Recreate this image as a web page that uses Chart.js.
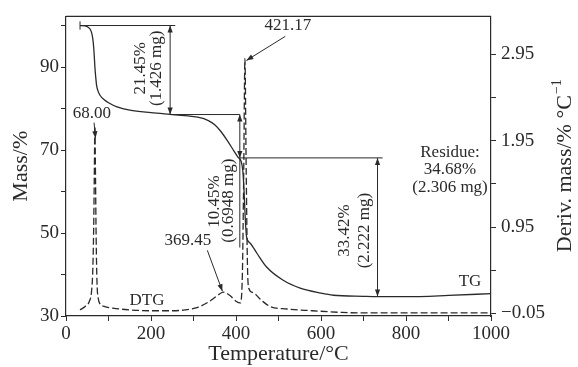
<!DOCTYPE html>
<html>
<head>
<meta charset="utf-8">
<script src="https://cdn.jsdelivr.net/npm/chart.js@4.4.1/dist/chart.umd.min.js"></script>
<style>
  body { margin: 0; background: #fff; }
  canvas { display: block; }
</style>
</head>
<body>
<canvas id="tga" width="578" height="367"></canvas>
<script>
// TG curve, mass % against temperature
const tgTemp = [33, 45, 52, 57, 61, 64, 66, 68, 70, 72, 75, 80, 90, 100, 120, 150, 200, 245, 280, 310, 335, 350, 365, 380, 395, 405, 412, 416, 419, 422, 425, 433, 450, 472, 511, 551, 600, 629, 700, 750, 800, 900, 1000];
const tgMass = [100, 99.9, 99.6, 99.1, 98.0, 96, 93.5, 90, 87.5, 85.6, 84.3, 83.2, 82.1, 81.4, 80.4, 79.6, 79.0, 78.6, 78.3, 77.9, 77.1, 76.1, 74.4, 72.2, 69.8, 68.2, 67.3, 65, 60, 53, 49, 47.6, 45, 41.8, 38.6, 36.7, 35.5, 35.0, 34.75, 34.65, 34.65, 34.95, 35.4];

// DTG curve, deriv. mass %/°C
const dtgTemp = [33, 45, 55, 60, 63, 65, 66.5, 68, 69.5, 71, 73, 76, 80, 90, 110, 150, 200, 250, 280, 310, 335, 355, 370, 385, 400, 410, 415, 418, 421, 424, 427, 430, 440, 460, 480, 520, 580, 650, 700, 1000];
const dtgVal = [-0.01, 0.03, 0.09, 0.2, 0.45, 0.9, 1.5, 2.12, 1.5, 0.8, 0.3, 0.12, 0.06, 0.03, 0.01, -0.01, -0.02, -0.02, -0.01, 0.02, 0.08, 0.15, 0.195, 0.16, 0.09, 0.07, 0.4, 1.5, 2.9, 1.6, 0.5, 0.24, 0.19, 0.1, 0.03, 0.0, -0.02, -0.04, -0.045, -0.045];

// tick values
const tempTicks = [0, 100, 200, 300, 400, 500, 600, 700, 800, 900, 1000];
const tempLabels = [0, 200, 400, 600, 800, 1000];
const massTicks = [30, 40, 50, 60, 70, 80, 90, 100];
const massLabels = [30, 50, 70, 90];
const derivTicks = [-0.05, 0.45, 0.95, 1.45, 1.95, 2.45, 2.95];
const derivLabels = [-0.05, 0.95, 1.95, 2.95];

// mass loss brackets (temperature, mass)
const bracketLines = [
    [33, 100, 257, 100],
    [33, 99, 33, 101],
    [245, 100, 245, 78.55],
    [245, 78.55, 409, 78.55],
    [409, 78.55, 409, 46.5],
    [409, 68.1, 745, 68.1],
    [733, 68.1, 733, 34.68]
];
const bracketHeads = [
    [245, 100, -1], [245, 78.55, 1],
    [409, 78.55, -1], [409, 68.1, 1],
    [733, 68.1, -1], [733, 34.68, 1]
];
// peak pointers (temperature, deriv. mass)
const peakPointers = [
    [66, 2.16, 69.4, 1.98],
    [516, 3.16, 424.5, 2.88],
    [332.5, 0.68, 368, 0.207]
];
// labels (temperature, mass)
const notes = [
    ['68.00', 61, 78.9, 0],
    ['369.45', 287, 48.2, 0],
    ['421.17', 522, 100.0, 0],
    ['21.45%', 176.5, 89.7, 1],
    ['(1.426 mg)', 214, 89.7, 1],
    ['10.45%', 350.6, 57.6, 1],
    ['(0.6948 mg)', 383.5, 57.8, 1],
    ['33.42%', 656.5, 50.6, 1],
    ['(2.222 mg)', 703.5, 50.6, 1],
    ['Residue:', 903.5, 69.3, 0],
    ['34.68%', 903.5, 65.4, 0],
    ['(2.306 mg)', 903.5, 60.9, 0],
    ['TG', 950.6, 38.4, 0],
    ['DTG', 190.6, 33.8, 0]
];

const ink = '#2a2a2a';
const serif = 'Liberation Serif';

function toPts(xs, ys) {
    return xs.map((x, i) => ({ x: x, y: ys[i] }));
}

function head(ctx, x1, y1, x2, y2) {
    const a = Math.atan2(y2 - y1, x2 - x1);
    const len = 7, w = 2.6;
    ctx.beginPath();
    ctx.moveTo(x2, y2);
    ctx.lineTo(x2 - len * Math.cos(a) + w * Math.sin(a), y2 - len * Math.sin(a) - w * Math.cos(a));
    ctx.lineTo(x2 - len * Math.cos(a) - w * Math.sin(a), y2 - len * Math.sin(a) + w * Math.cos(a));
    ctx.closePath();
    ctx.fill();
}

const annotate = {
    id: 'annotate',
    afterDatasetsDraw(chart) {
        const ctx = chart.ctx;
        const sx = chart.scales.x, sy = chart.scales.y, sd = chart.scales.y1;
        const a = chart.chartArea;
        ctx.save();
        ctx.strokeStyle = ink;
        ctx.fillStyle = ink;
        ctx.lineWidth = 1.2;

        // top frame line
        ctx.beginPath();
        ctx.moveTo(a.left, a.top);
        ctx.lineTo(a.right, a.top);
        ctx.stroke();

        ctx.lineWidth = 1;
        bracketLines.forEach(l => {
            ctx.beginPath();
            ctx.moveTo(sx.getPixelForValue(l[0]), sy.getPixelForValue(l[1]));
            ctx.lineTo(sx.getPixelForValue(l[2]), sy.getPixelForValue(l[3]));
            ctx.stroke();
        });
        bracketHeads.forEach(h => {
            const px = sx.getPixelForValue(h[0]), py = sy.getPixelForValue(h[1]);
            head(ctx, px, py - 10 * h[2], px, py);
        });
        peakPointers.forEach(p => {
            const x1 = sx.getPixelForValue(p[0]), y1 = sd.getPixelForValue(p[1]);
            const x2 = sx.getPixelForValue(p[2]), y2 = sd.getPixelForValue(p[3]);
            ctx.beginPath();
            ctx.moveTo(x1, y1);
            ctx.lineTo(x2, y2);
            ctx.stroke();
            head(ctx, x1, y1, x2, y2);
        });

        ctx.font = '17px "' + serif + '"';
        ctx.textAlign = 'center';
        ctx.textBaseline = 'middle';
        notes.forEach(n => {
            const px = sx.getPixelForValue(n[1]), py = sy.getPixelForValue(n[2]);
            ctx.save();
            ctx.translate(px, py);
            if (n[3]) ctx.rotate(-Math.PI / 2);
            ctx.fillText(n[0], 0, 0);
            ctx.restore();
        });

        // right axis title with superscript
        const main = 'Deriv. mass/% \u00B0C', sup = '\u22121';
        ctx.save();
        ctx.translate(565, (a.top + a.bottom) / 2);
        ctx.rotate(-Math.PI / 2);
        ctx.font = '22px "' + serif + '"';
        const w1 = ctx.measureText(main).width;
        ctx.font = '14px "' + serif + '"';
        const w2 = ctx.measureText(sup).width;
        const start = -(w1 + w2) / 2;
        ctx.textAlign = 'left';
        ctx.font = '22px "' + serif + '"';
        ctx.fillText(main, start, 0);
        ctx.font = '14px "' + serif + '"';
        ctx.fillText(sup, start + w1 + 1, -8);
        ctx.restore();

        ctx.restore();
    }
};

const tickFont = { family: serif, size: 19 };
const titleFont = { family: serif, size: 22 };
const axisGrid = { drawOnChartArea: false, drawTicks: true, tickLength: 5, color: ink, tickWidth: 1 };
const axisBorder = { display: true, color: ink, width: 1.2 };

new Chart(document.getElementById('tga'), {
    type: 'line',
    data: {
        datasets: [
            {
                label: 'TG',
                data: toPts(tgTemp, tgMass),
                yAxisID: 'y',
                borderColor: ink,
                borderWidth: 1.3,
                pointRadius: 0,
                cubicInterpolationMode: 'monotone',
                fill: false
            },
            {
                label: 'DTG',
                data: toPts(dtgTemp, dtgVal),
                yAxisID: 'y1',
                borderColor: ink,
                borderWidth: 1.3,
                borderDash: [7, 3],
                pointRadius: 0,
                cubicInterpolationMode: 'monotone',
                fill: false
            }
        ]
    },
    options: {
        responsive: false,
        animation: false,
        layout: { padding: { top: 15, left: 0, right: 0, bottom: 0 } },
        plugins: {
            legend: { display: false },
            tooltip: { enabled: false }
        },
        scales: {
            x: {
                type: 'linear',
                min: 0,
                max: 1000,
                afterFit: s => { s.height = 51; },
                afterBuildTicks: s => { s.ticks = tempTicks.map(v => ({ value: v })); },
                grid: axisGrid,
                border: axisBorder,
                ticks: {
                    autoSkip: false,
                    maxRotation: 0,
                    padding: 2,
                    color: ink,
                    font: tickFont,
                    callback: v => tempLabels.includes(v) ? String(v) : ''
                },
                title: { display: true, text: 'Temperature/\u00B0C', color: ink, font: titleFont, padding: { top: 0, bottom: 0 } }
            },
            y: {
                position: 'left',
                min: 30,
                max: 102.2,
                afterFit: s => { s.width = 66; },
                afterBuildTicks: s => { s.ticks = massTicks.map(v => ({ value: v })); },
                grid: axisGrid,
                border: axisBorder,
                ticks: {
                    autoSkip: false,
                    padding: 2,
                    color: ink,
                    font: tickFont,
                    callback: v => massLabels.includes(v) ? String(v) : ''
                },
                title: { display: true, text: 'Mass/%', color: ink, font: titleFont, padding: { top: 8, bottom: 0 } }
            },
            y1: {
                position: 'right',
                min: -0.081,
                max: 3.391,
                afterFit: s => { s.width = 87; },
                afterBuildTicks: s => { s.ticks = derivTicks.map(v => ({ value: v })); },
                grid: axisGrid,
                border: axisBorder,
                ticks: {
                    autoSkip: false,
                    padding: 5,
                    color: ink,
                    font: tickFont,
                    callback: v => derivLabels.includes(v) ? (v < 0 ? '\u2212' + Math.abs(v).toFixed(2) : v.toFixed(2)) : ''
                }
            }
        }
    },
    plugins: [annotate]
});
</script>
</body>
</html>
